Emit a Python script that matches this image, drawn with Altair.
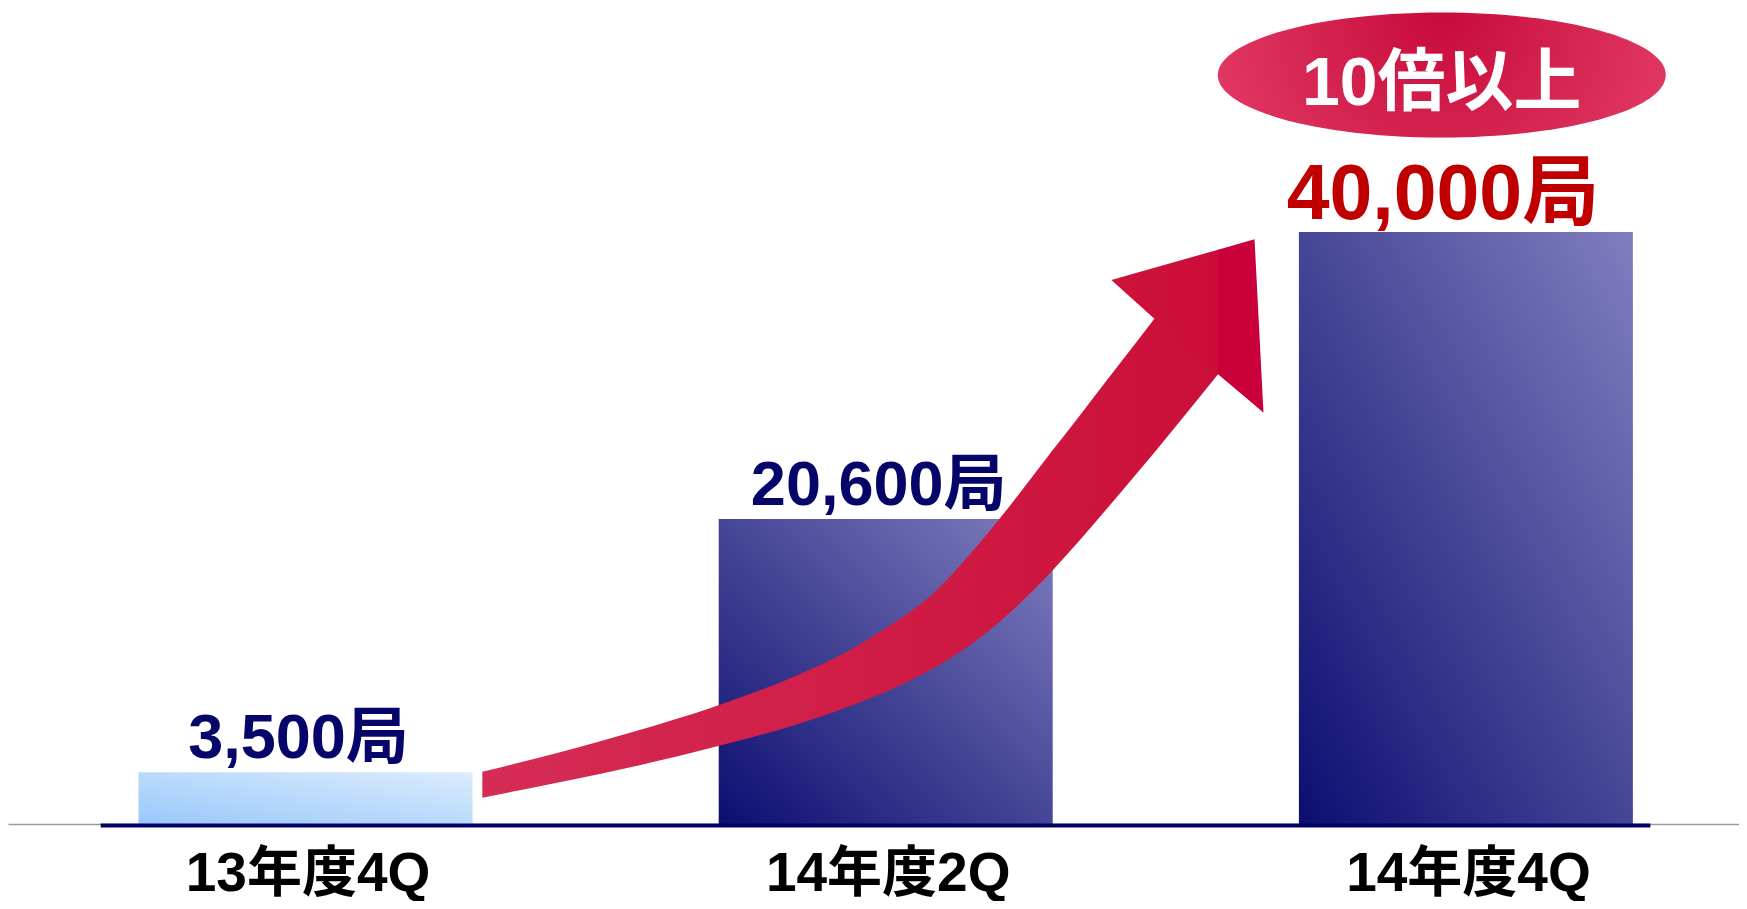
import json
import altair as alt
import pandas as pd

# ---- data ----
categories = ["13年度4Q", "14年度2Q", "14年度4Q"]
stations = [3500, 20600, 40000]
unit = "局"
badge_text = "10倍以上"

# decorative rising arrow, in data units (x = category position, y = stations)
arrow_body_x = [0.3047, 0.4418, 0.5561, 0.7130, 0.8416, 0.9387, 0.9953, 1.0416,
                1.0810, 1.1272, 1.1958, 1.2866, 1.3329, 1.4014, 1.4631, 1.4871, 1.5728]
arrow_body_top = [3534, 4885, 6128, 8041, 9953, 11757, 13108, 14324,
                  15541, 17432, 20608, 25203, 27520, 31007, 34142, 35365, 36081]
arrow_body_bottom = [1777, 2858, 3804, 5291, 6662, 7966, 8858, 9696,
                     10507, 11601, 13655, 17095, 19101, 22236, 25108, 26243, 30385]
arrow_head_x = [1.3889, 1.4631, 1.5728, 1.6357, 1.6511]
arrow_head_top = [36757, 37581, 38804, 39507, 27791]
arrow_head_bottom = [36757, 34142, 30385, 28304, 27791]

# badge ellipse centre and the navy base line extent (data units)
badge_x = [1.9584]
badge_y = [50608]
base_x = [-0.353]
base_x2 = [2.318]

FONT = "Liberation Sans, Noto Sans CJK JP, sans-serif"
W, H = 1731, 816

bars = pd.DataFrame({
    "x": list(range(len(categories))),
    "y": stations,
    "label": [f"{v:,}{unit}" for v in stations],
})
body = pd.DataFrame({"x": arrow_body_x, "y": arrow_body_top, "y2": arrow_body_bottom})
head = pd.DataFrame({"x": arrow_head_x, "y": arrow_head_top, "y2": arrow_head_bottom})
badge = pd.DataFrame({"x": badge_x, "y": badge_y, "label": [badge_text]})
base = pd.DataFrame({"x": base_x, "x2": base_x2, "y": [0]})

xs = alt.Scale(domain=[-0.5042, 2.4621], nice=False, zero=False)
ys = alt.Scale(domain=[0, 55135], nice=False, zero=False)
label_expr = json.dumps(categories, ensure_ascii=False) + "[datum.value]"
xaxis = alt.Axis(
    values=list(range(len(categories))), labelExpr=label_expr, title="",
    grid=False, ticks=False, tickSize=0, domain=True, domainColor="#9a9a9a",
    domainWidth=1.5, labelFont=FONT, labelFontSize=55, labelFontWeight="bold",
    labelColor="#000000", labelBaseline="alphabetic", labelPadding=66,
    labelFlush=False, labelOverlap=False, labelOffset=2, labelLimit=0,
)
X = alt.X("x:Q", scale=xs, axis=xaxis)
Y = alt.Y("y:Q", scale=ys, axis=None)
Y2 = alt.Y2("y2:Q")


def lin(stops, x1=0, y1=0, x2=1, y2=0):
    return alt.LinearGradient(
        gradient="linear", x1=x1, y1=y1, x2=x2, y2=y2,
        stops=[alt.GradientStop(offset=o, color=c) for o, c in stops],
    )


light_bar = alt.Chart(bars).transform_filter("datum.x == 0").mark_bar(
    orient="vertical", size=334,
    color=lin([(0, "#99c8fb"), (1, "#dcecfd")], x1=0, y1=1, x2=1, y2=0),
).encode(x=X, y=Y, y2=alt.datum(0))

navy_bars = alt.Chart(bars).transform_filter("datum.x > 0").mark_bar(
    orient="vertical", size=334,
    color=lin([(0, "#0c0e70"), (1, "#807ebe")], x1=0, y1=1, x2=1, y2=0),
).encode(x=X, y=Y, y2=alt.datum(0))

base_line = alt.Chart(base).mark_rule(color="#000066", strokeWidth=4, yOffset=1.5).encode(
    x=X, x2=alt.X2("x2:Q"), y=Y
)

arrow_body = alt.Chart(body).mark_area(
    interpolate="monotone", opacity=1,
    color=lin([(0, "#d52c55"), (1, "#cb0f38")]),
).encode(x=X, y=Y, y2=Y2)

arrow_head = alt.Chart(head).mark_area(
    interpolate="linear", opacity=1,
    color=lin([(0, "#cd1439"), (0.70, "#cb0c38"), (0.705, "#c9003a"), (1, "#c9003a")]),
).encode(x=X, y=Y, y2=Y2)

ellipse_path = ("M-1,0C-1,-0.155,-0.552,-0.279,0,-0.279C0.552,-0.279,1,-0.155,1,0"
                "C1,0.155,0.552,0.279,0,0.279C-0.552,0.279,-1,0.155,-1,0Z")
badge_shape = alt.Chart(badge).mark_point(
    shape=ellipse_path, size=448 * 448, filled=True, opacity=1, strokeWidth=0,
    fill=alt.RadialGradient(
        gradient="radial", x1=0.5, y1=0.35, x2=0.5, y2=0.4, r1=0, r2=0.62,
        stops=[alt.GradientStop(offset=0, color="#c70a3a"),
               alt.GradientStop(offset=1, color="#e5416a")],
    ),
).encode(x=X, y=Y)

badge_label = alt.Chart(badge).mark_text(
    font=FONT, fontSize=68, fontWeight="bold", color="#ffffff",
    align="center", baseline="alphabetic", dy=30,
).encode(x=X, y=Y, text="label:N")

navy_labels = alt.Chart(bars).transform_filter("datum.x < 2").mark_text(
    font=FONT, fontSize=63, fontWeight="bold", color="#06066a",
    align="center", baseline="alphabetic", dx=-7, dy=-14,
).encode(x=X, y=Y, text="label:N")

red_label = alt.Chart(bars).transform_filter("datum.x == 2").mark_text(
    font=FONT, fontSize=77, fontWeight="bold", color="#c00000",
    align="center", baseline="alphabetic", dx=-23, dy=-13,
).encode(x=X, y=Y, text="label:N")

chart = alt.layer(
    light_bar, navy_bars, base_line, arrow_body, arrow_head,
    badge_shape, badge_label, navy_labels, red_label,
).properties(
    width=W, height=H,
    autosize=alt.AutoSizeParams(type="none"),
    padding={"left": 0, "top": 0, "right": 0, "bottom": 77},
).configure_view(strokeWidth=0)

chart.save("out.html", embed_options={"renderer": "svg", "actions": False})
